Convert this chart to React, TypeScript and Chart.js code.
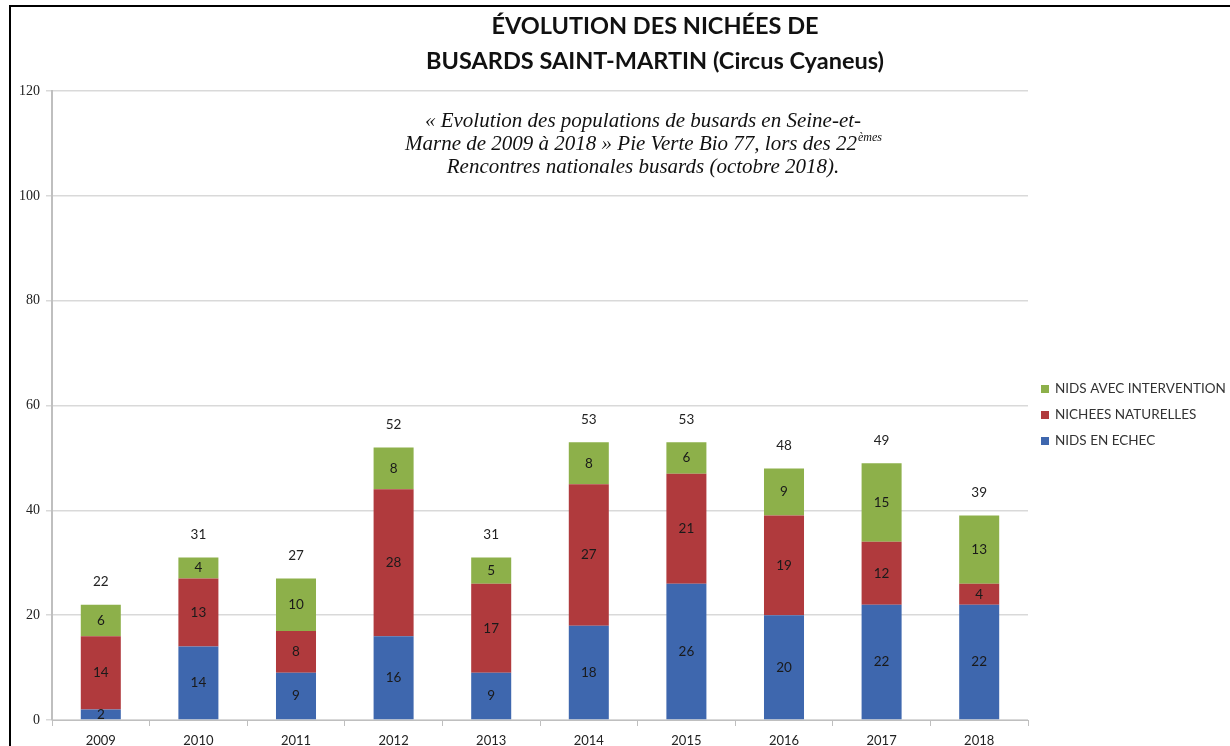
import React, { useEffect, useRef } from "react";
import { Chart, registerables } from "chart.js";

Chart.register(...registerables);

const years = ["2009", "2010", "2011", "2012", "2013", "2014", "2015", "2016", "2017", "2018"];
const nidsEnEchec = [2, 14, 9, 16, 9, 18, 26, 20, 22, 22];
const nicheesNaturelles = [14, 13, 8, 28, 17, 27, 21, 19, 12, 4];
const nidsAvecIntervention = [6, 4, 10, 8, 5, 8, 6, 9, 15, 13];
const totals = [22, 31, 27, 52, 31, 53, 53, 48, 49, 39];
const yTicks = [0, 20, 40, 60, 80, 100, 120];

const seriesNames = ["NIDS EN ECHEC", "NICHEES NATURELLES", "NIDS AVEC INTERVENTION"];
const seriesColors = ["#3E67AE", "#B03A3D", "#8DB04A"];

const titleLines = ["ÉVOLUTION DES NICHÉES DE", "BUSARDS SAINT-MARTIN (Circus Cyaneus)"];
const noteLine1 = "« Evolution des populations de busards en Seine-et-";
const noteLine2 = "Marne de 2009 à 2018 » Pie Verte Bio 77, lors des 22";
const noteLine2Sup = "èmes";
const noteLine3 = "Rencontres nationales busards (octobre 2018).";

const decorPlugin = {
  id: "decor",
  beforeDraw(chart: any) {
    const ctx = chart.ctx;
    ctx.save();
    ctx.fillStyle = "#ffffff";
    ctx.fillRect(0, 0, chart.width, chart.height);
    ctx.restore();
  },
  afterDraw(chart: any) {
    const ctx = chart.ctx;
    ctx.save();
    // frame
    ctx.strokeStyle = "#000";
    ctx.lineWidth = 2;
    ctx.beginPath();
    ctx.moveTo(10, chart.height);
    ctx.lineTo(10, 6);
    ctx.lineTo(chart.width, 6);
    ctx.stroke();

    // title
    ctx.fillStyle = "#111";
    ctx.textAlign = "center";
    ctx.textBaseline = "middle";
    ctx.font = "bold 23.5px Lato";
    ctx.fillText(titleLines[0], 655, 26);
    ctx.fillText(titleLines[1], 655, 61);

    // note
    const noteFont = "italic 21px 'Liberation Serif'";
    const supFont = "italic 12px 'Liberation Serif'";
    ctx.font = noteFont;
    ctx.fillStyle = "#111";
    ctx.fillText(noteLine1, 643, 121);
    const w2 = ctx.measureText(noteLine2).width;
    ctx.font = supFont;
    const ws = ctx.measureText(noteLine2Sup).width;
    const start2 = 643 - (w2 + ws) / 2;
    ctx.textAlign = "left";
    ctx.font = noteFont;
    ctx.fillText(noteLine2, start2, 144);
    ctx.font = supFont;
    ctx.fillText(noteLine2Sup, start2 + w2 + 1, 138);
    ctx.textAlign = "center";
    ctx.font = noteFont;
    ctx.fillText(noteLine3, 643, 167);

    // legend (reversed order)
    ctx.textAlign = "left";
    ctx.font = "13.5px Lato";
    const order = [2, 1, 0];
    order.forEach((di, i) => {
      const y = 389 + i * 26;
      ctx.fillStyle = seriesColors[di];
      ctx.fillRect(1041, y - 4, 8, 8);
      ctx.fillStyle = "#333";
      ctx.fillText(seriesNames[di], 1055, y);
    });
    ctx.restore();
  },
  afterDatasetsDraw(chart: any) {
    const ctx = chart.ctx;
    ctx.save();
    ctx.textAlign = "center";
    ctx.textBaseline = "middle";
    ctx.font = "13.5px Lato";
    ctx.fillStyle = "#1a1a1a";
    chart.data.datasets.forEach((ds: any, di: number) => {
      const meta = chart.getDatasetMeta(di);
      meta.data.forEach((bar: any, i: number) => {
        const v = ds.data[i];
        const c = bar.getCenterPoint();
        ctx.fillText(String(v), c.x, c.y);
      });
    });
    const yScale = chart.scales.y;
    const top = chart.getDatasetMeta(2);
    ctx.fillStyle = "#222";
    top.data.forEach((bar: any, i: number) => {
      const yTop = yScale.getPixelForValue(totals[i]);
      ctx.fillText(String(totals[i]), bar.x, yTop - 23);
    });
    ctx.restore();
  },
};

export default function App() {
  const ref = useRef<HTMLCanvasElement>(null);
  useEffect(() => {
    document.body.style.margin = "0";
    const chart = new Chart(ref.current!, {
      type: "bar",
      data: {
        labels: years,
        datasets: [
          { label: seriesNames[0], data: nidsEnEchec, backgroundColor: seriesColors[0] },
          { label: seriesNames[1], data: nicheesNaturelles, backgroundColor: seriesColors[1] },
          { label: seriesNames[2], data: nidsAvecIntervention, backgroundColor: seriesColors[2] },
        ],
      },
      options: {
        responsive: false,
        animation: false,
        devicePixelRatio: 1,
        layout: { padding: { left: 10, right: 202, top: 91, bottom: 0 } },
        datasets: { bar: { categoryPercentage: 1, barPercentage: 0.41 } } as any,
        plugins: { legend: { display: false }, tooltip: { enabled: false }, title: { display: false } },
        scales: {
          x: {
            stacked: true,
            offset: true,
            grid: { drawOnChartArea: false, offset: true, tickLength: 6, color: "#bfbfbf" },
            border: { color: "#bfbfbf", width: 1 },
            ticks: { font: { family: "Lato", size: 13 }, color: "#222", padding: 7 },
            afterFit: (s: any) => { s.height = 26; },
          },
          y: {
            stacked: true,
            min: 0,
            max: 120,
            afterBuildTicks: (s: any) => { s.ticks = yTicks.map((v) => ({ value: v })); },
            ticks: { font: { family: "'Liberation Serif'", size: 14 }, color: "#222", padding: 6 },
            grid: { color: "#d9d9d9", tickLength: 6, lineWidth: 1.5 },
            border: { color: "#bfbfbf", width: 2 },
            afterFit: (s: any) => { s.width = 42; },
          },
        },
      },
      plugins: [decorPlugin],
    });
    return () => chart.destroy();
  }, []);
  return <canvas ref={ref} width={1230} height={746} style={{ display: "block" }} />;
}
